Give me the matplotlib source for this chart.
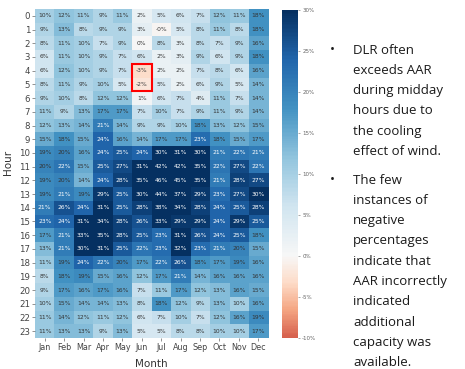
import numpy as np
import matplotlib
matplotlib.use("Agg")
import matplotlib.pyplot as plt
from matplotlib.colors import ListedColormap, Normalize
from matplotlib.patches import Rectangle

months = ["Jan", "Feb", "Mar", "Apr", "May", "Jun", "Jul", "Aug", "Sep", "Oct", "Nov", "Dec"]
hours = [str(h) for h in range(24)]

# DLR over AAR, percent, rows = hour 0..23, cols = Jan..Dec
diff = np.array([
    [10, 12, 11,  9, 11,  2,  5,  6,  7, 12, 11, 18],
    [ 9, 13,  8,  9,  9,  3, -0.3, 5,  8, 11,  8, 18],
    [ 8, 11, 10,  7,  9,  0,  8,  3,  8,  7,  9, 16],
    [ 6, 11, 10,  9,  7,  6,  2,  3,  9,  6,  9, 18],
    [ 6, 12, 10,  9,  7, -3,  2,  2,  7,  8,  6, 16],
    [ 8, 11,  9, 10,  5, -2,  5,  2,  6,  9,  5, 14],
    [ 9, 10,  8, 12, 12,  1,  6,  7,  4, 11,  7, 14],
    [11,  9, 13, 17, 17,  7, 10,  7,  9, 11,  9, 14],
    [12, 13, 14, 21, 14,  9,  9, 10, 18, 13, 12, 15],
    [15, 18, 15, 24, 16, 14, 17, 17, 23, 18, 15, 17],
    [19, 20, 16, 24, 25, 24, 30, 31, 30, 21, 22, 21],
    [20, 22, 15, 25, 27, 31, 42, 42, 35, 22, 27, 22],
    [19, 20, 14, 24, 28, 35, 46, 45, 35, 21, 28, 27],
    [19, 21, 19, 29, 25, 30, 44, 37, 29, 23, 27, 30],
    [21, 26, 24, 31, 25, 28, 38, 34, 28, 24, 25, 28],
    [23, 24, 31, 34, 28, 26, 33, 29, 29, 24, 29, 25],
    [17, 21, 33, 35, 28, 25, 23, 31, 26, 24, 25, 18],
    [13, 21, 30, 31, 25, 22, 23, 32, 23, 21, 20, 15],
    [11, 19, 24, 22, 20, 17, 22, 26, 18, 17, 19, 16],
    [ 8, 18, 19, 15, 16, 12, 17, 21, 14, 16, 16, 16],
    [ 9, 17, 16, 17, 16,  7, 11, 17, 12, 13, 16, 15],
    [10, 15, 14, 14, 13,  8, 18, 12,  9, 13, 10, 16],
    [11, 14, 12, 11, 12,  6,  7, 10,  7, 12, 16, 19],
    [11, 13, 13,  9, 13,  5,  5,  8,  8, 10, 10, 17],
])

bullets = [
    ["DLR often", "exceeds AAR", "during midday", "hours due to",
     "the cooling", "effect of wind."],
    ["The few", "instances of", "negative", "percentages", "indicate that",
     "AAR incorrectly", "indicated", "additional", "capacity was", "available."],
]

vmin, vmax = -10, 30
# RdBu, white at 0, reds only down to ~0.2 of the map
vals = np.linspace(vmin, vmax, 256)
t = np.where(vals < 0, 0.5 + 0.03 * vals, 0.5 + vals / 60.0)
cmap = ListedColormap(plt.cm.RdBu(t))
norm = Normalize(vmin, vmax)

W, H = 465, 369
fig = plt.figure(figsize=(W / 100, H / 100), dpi=100)
ax = fig.add_axes([35 / W, 1 - 338 / H, 233 / W, 329 / H])
cax = fig.add_axes([282 / W, 1 - 338 / H, 16 / W, 328 / H])

im = ax.imshow(diff, cmap=cmap, norm=norm, aspect="auto", interpolation="nearest")

for i in range(diff.shape[0]):
    for j in range(diff.shape[1]):
        r, g, b, _ = cmap(norm(diff[i, j]))
        lum = 0.2126 * r + 0.7152 * g + 0.0722 * b
        col = "#333333" if lum > 0.45 else "white"
        ax.text(j, i, "%.0f%%" % diff[i, j], ha="center", va="center",
                fontsize=4.3, color=col)

ax.add_patch(Rectangle((4.5, 3.5), 1, 2, fill=False, edgecolor="red", lw=1.5))

ax.set_xticks(range(12))
ax.set_xticklabels(months, fontsize=5.8, color="#444444")
ax.set_yticks(range(24))
ax.set_yticklabels(hours, fontsize=6.2, color="#444444")
ax.tick_params(length=2, width=0.5, color="#666666", pad=1.5)
for s in ax.spines.values():
    s.set_visible(False)

fig.text(8 / W, 1 - 162 / H, "Hour", rotation=90, ha="center", va="center",
         fontsize=7.5, color="#333333")
fig.text(151 / W, 1 - 364 / H, "Month", ha="center", va="center",
         fontsize=7.5, color="#333333")

cb = fig.colorbar(im, cax=cax, ticks=range(-10, 31, 5))
cb.outline.set_visible(False)
cb.ax.set_yticklabels(["%d%%" % v for v in range(-10, 31, 5)])
cb.ax.tick_params(labelsize=4, length=1.5, width=0.4, colors="#666666", pad=1.5)

starts = [50, 180]
for lines, y0 in zip(bullets, starts):
    fig.text(332 / W, 1 - y0 / H, "\u2022", ha="center", va="center",
             fontsize=9.5, color="#1a1a1a", family="Open Sans")
    for k, line in enumerate(lines):
        fig.text(353 / W, 1 - (y0 + k * 20.3) / H, line, ha="left", va="center",
                 fontsize=9.5, color="#1a1a1a", family="Open Sans")

fig.savefig("out.png", dpi=100)
